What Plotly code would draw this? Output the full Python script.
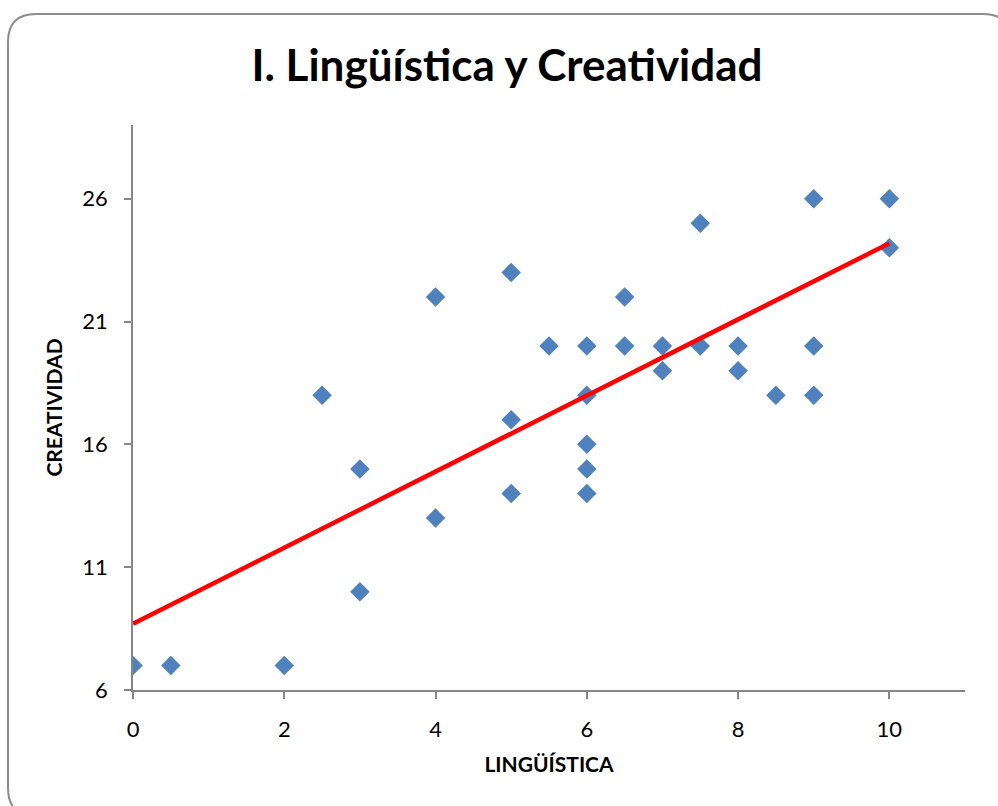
import numpy as np
import plotly.graph_objects as go

# datos
linguistica = [0, 0.5, 2, 2.5, 3, 3, 4, 4, 5, 5, 5, 5.5, 6, 6, 6, 6, 6,
               6.5, 6.5, 7, 7, 7.5, 7.5, 8, 8, 8.5, 9, 9, 9, 10, 10]
creatividad = [7, 7, 7, 18, 15, 10, 22, 13, 23, 17, 14, 20, 20, 18, 16, 15, 14,
               22, 20, 20, 19, 25, 20, 20, 19, 18, 26, 20, 18, 26, 24]

x_ticks = [0, 2, 4, 6, 8, 10]
y_ticks = [6, 11, 16, 21, 26]

FONT = "Lato"
W, H = 998, 806
ML, MR, MT, MB = 133, 33, 125, 116

# línea de tendencia lineal (como en Excel)
slope, intercept = np.polyfit(linguistica, creatividad, 1)
trend_x = [min(linguistica), max(linguistica)]
trend_y = [intercept + slope * v for v in trend_x]

fig = go.Figure()

fig.add_trace(go.Scatter(
    x=linguistica, y=creatividad,
    mode='markers',
    marker=dict(symbol='diamond', size=15, color='#4F81BD', line=dict(width=0)),
    showlegend=False,
))

fig.add_trace(go.Scatter(
    x=trend_x, y=trend_y,
    mode='lines',
    line=dict(color='#FF0000', width=4.5),
    showlegend=False,
))

# marco redondeado del gráfico (pixeles -> coordenadas paper)
pw, ph = W - ML - MR, H - MT - MB
def px(v):
    return (v - ML) / pw
def py(v):
    return (H - MB - v) / ph

# el marco continúa fuera de la imagen por la derecha y por abajo
x0, x1, y0, y1, r = 8, 1011, 14, 816, 28
path = (f"M {px(x0 + r)},{py(y0)} L {px(x1 - r)},{py(y0)} "
        f"Q {px(x1)},{py(y0)} {px(x1)},{py(y0 + r)} L {px(x1)},{py(y1 - r)} "
        f"Q {px(x1)},{py(y1)} {px(x1 - r)},{py(y1)} L {px(x0 + r)},{py(y1)} "
        f"Q {px(x0)},{py(y1)} {px(x0)},{py(y1 - r)} L {px(x0)},{py(y0 + r)} "
        f"Q {px(x0)},{py(y0)} {px(x0 + r)},{py(y0)} Z")

fig.add_shape(type='path', path=path, xref='paper', yref='paper',
              line=dict(color='#8C8C8C', width=2), layer='below')

fig.update_layout(
    width=W, height=H,
    margin=dict(l=ML, r=MR, t=MT, b=MB),
    plot_bgcolor='white',
    paper_bgcolor='white',
    font=dict(family=FONT, color='black'),
    title=dict(
        text='<b>I. Lingüística y Creatividad</b>',
        font=dict(size=44, family=FONT, color='black'),
        xref='container', x=0.508, xanchor='center',
        yref='container', y=0.919, yanchor='middle',
    ),
    xaxis=dict(
        range=[0, 11],
        tickmode='array', tickvals=x_ticks,
        ticks='outside', ticklen=7, tickcolor='#868686', tickwidth=1.5,
        ticklabelstandoff=12,
        showline=True, linecolor='#868686', linewidth=1.5,
        showgrid=False, zeroline=False,
        tickfont=dict(size=22),
        title=dict(text='<b>LINGÜÍSTICA</b>', font=dict(size=21), standoff=16),
    ),
    yaxis=dict(
        range=[6, 29],
        tickmode='array', tickvals=y_ticks,
        ticks='outside', ticklen=7, tickcolor='#868686', tickwidth=1.5,
        ticklabelstandoff=12,
        showline=True, linecolor='#868686', linewidth=1.5,
        showgrid=False, zeroline=False,
        tickfont=dict(size=22),
        title=dict(text='<b>CREATIVIDAD</b>', font=dict(size=21), standoff=14),
    ),
)

# sin margen de página para que el gráfico ocupe toda la ventana
fig.write_html("out.html", config={'displayModeBar': False},
               post_script="document.body.style.margin='0px';")
